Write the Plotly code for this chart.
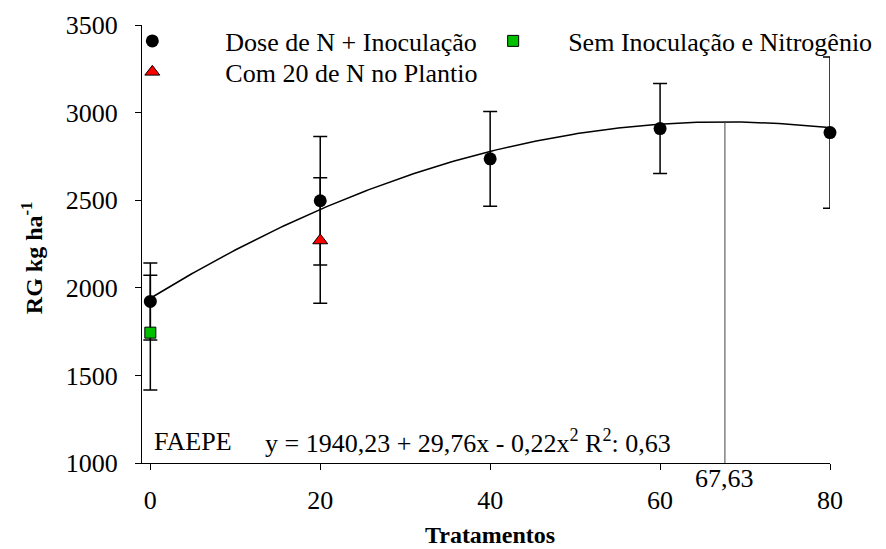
import numpy as np
import plotly.graph_objects as go

# ---- data ----
dose_x = [0, 20, 40, 60, 80]
dose_y = [1922, 2497, 2736, 2909, 2886]
dose_err = [220, 367, 270, 257, 432]

com_x = [20]
com_y = [2270]
com_err = [358]

sem_x = [0]
sem_y = [1744]
sem_err = [327]

coef_b0, coef_b1, coef_b2 = 1940.23, 29.76, -0.22
x_opt = 67.63

x_ticks = [0, 20, 40, 60, 80]
y_ticks = [1000, 1500, 2000, 2500, 3000, 3500]

# ---- layout helpers (pixel -> paper) ----
W, H = 886, 549
PL, PR, PT, PB = 141.7, 830.0, 25.0, 463.3
def px(xp):
    return (xp - PL) / (PR - PL)
def py(yp):
    return (PB - yp) / (PB - PT)

FONT = "Liberation Serif, Times New Roman, Times, serif"
FS = 26
FST = 24

fig = go.Figure()

# regression curve
xc = np.linspace(0, 80, 200)
yc = coef_b0 + coef_b1 * xc + coef_b2 * xc ** 2
fig.add_trace(go.Scatter(x=xc, y=yc, mode="lines", line=dict(color="black", width=1.5),
                         showlegend=False, hoverinfo="skip"))

eb = dict(type="data", color="black", thickness=1.5, width=7)

fig.add_trace(go.Scatter(x=dose_x, y=dose_y, mode="markers", name="Dose de N + Inoculação",
                         marker=dict(symbol="circle", size=13, color="black"),
                         error_y=dict(array=dose_err, **eb), legend="legend", cliponaxis=False))
fig.add_trace(go.Scatter(x=sem_x, y=sem_y, mode="markers", name="Sem Inoculação e Nitrogênio",
                         marker=dict(symbol="square", size=11, color="#00c000",
                                     line=dict(color="black", width=1)),
                         error_y=dict(array=sem_err, **eb), legend="legend2", cliponaxis=False))
fig.add_trace(go.Scatter(x=com_x, y=com_y, mode="markers", name="Com 20 de N no Plantio",
                         marker=dict(symbol="triangle-up", size=13, color="#ff0000",
                                     line=dict(color="black", width=1)),
                         error_y=dict(array=com_err, **eb), legend="legend3", cliponaxis=False))

y_top = coef_b0 + coef_b1 * x_opt + coef_b2 * x_opt ** 2
fig.add_shape(type="line", x0=x_opt, x1=x_opt, y0=y_ticks[0], y1=y_top,
              xref="x", yref="y", line=dict(color="#444444", width=1))

leg_common = dict(font=dict(family=FONT, size=FS, color="black"), bgcolor="rgba(0,0,0,0)",
                  borderwidth=0, xanchor="left", yanchor="middle", itemsizing="trace")
fig.update_layout(
    legend=dict(x=px(79), y=py(41), itemwidth=136, **leg_common),
    legend2=dict(x=px(458), y=py(41), itemwidth=100, **leg_common),
    legend3=dict(x=px(79), y=py(72), itemwidth=136, **leg_common),
)

fig.add_annotation(text="FAEPE", xref="paper", yref="paper", x=px(152), y=py(442),
                   xanchor="left", yanchor="middle", showarrow=False,
                   font=dict(family=FONT, size=FS, color="black"))
fig.add_annotation(text="y = 1940,23 + 29,76x - 0,22x<sup>2</sup> R<sup>2</sup>: 0,63",
                   xref="paper", yref="paper", x=px(263), y=py(442),
                   xanchor="left", yanchor="middle", showarrow=False,
                   font=dict(family=FONT, size=FS, color="black"))
fig.add_annotation(text="67,63", xref="x", yref="paper", x=x_opt, y=py(479),
                   xanchor="center", yanchor="middle", showarrow=False,
                   font=dict(family=FONT, size=FS, color="black"))
# axis titles
fig.add_annotation(text="<b>Tratamentos</b>", xref="paper", yref="paper", x=px(490), y=py(535),
                   xanchor="center", yanchor="middle", showarrow=False,
                   font=dict(family=FONT, size=FST, color="black"))
fig.add_annotation(text="<b>RG kg ha<sup>-1</sup></b>", xref="paper", yref="paper",
                   x=px(31), y=py(258), textangle=-90,
                   xanchor="center", yanchor="middle", showarrow=False,
                   font=dict(family=FONT, size=FST, color="black"))

axis_common = dict(showgrid=False, zeroline=False, showline=True, linecolor="black", linewidth=1.3,
                   ticks="outside", ticklen=6, tickwidth=1.3, tickcolor="black",
                   automargin=False, tickfont=dict(family=FONT, size=FS, color="black"))
fig.update_xaxes(range=[-0.98, 80], tickvals=x_ticks, ticktext=[str(v) for v in x_ticks],
                 ticklabelstandoff=8, **axis_common)
fig.update_yaxes(range=[1000, 3500], tickvals=y_ticks, ticktext=[str(v) for v in y_ticks],
                 ticklabelstandoff=12, **axis_common)

fig.update_layout(template="none", width=W, height=H,
                  margin=dict(l=PL, r=W - PR, t=PT, b=H - PB, autoexpand=False),
                  plot_bgcolor="white", paper_bgcolor="white", showlegend=True)

fig.write_html("out.html")
